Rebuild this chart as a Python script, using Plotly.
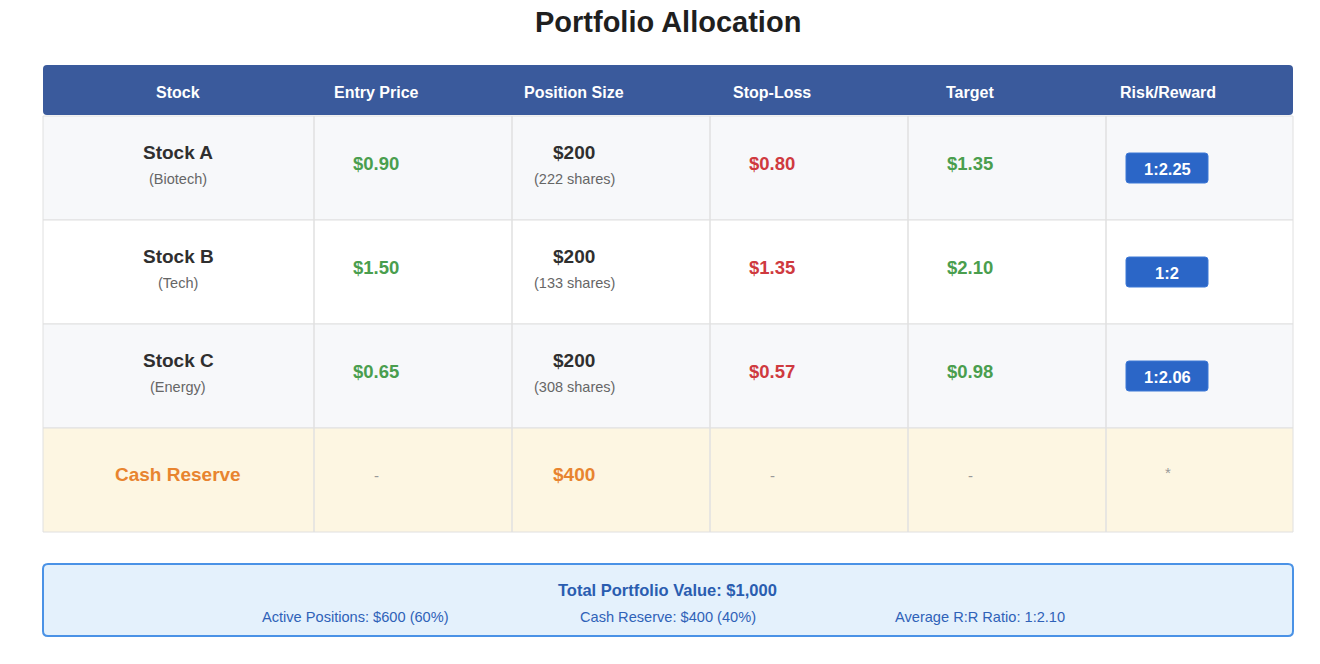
import plotly.graph_objects as go

# ---- data ----
headers = ["Stock", "Entry Price", "Position Size", "Stop-Loss", "Target", "Risk/Reward"]
stocks = ["Stock A", "Stock B", "Stock C"]
sectors = ["(Biotech)", "(Tech)", "(Energy)"]
entry_prices = [0.90, 1.50, 0.65]
position_sizes = [200, 200, 200]
share_counts = [222, 133, 308]
stop_losses = [0.80, 1.35, 0.57]
targets = [1.35, 2.10, 0.98]
risk_reward = ["1:2.25", "1:2", "1:2.06"]
cash_reserve = 400
total_value = 1000
active_positions = 600
avg_rr = "1:2.10"

# ---- layout constants (pixels in the browser window) ----
W, H = 1320, 664
LEFT, RIGHT = 43, 1293
HEAD_TOP, HEAD_BOT = 65, 115
ROW_H = 104
FIRST_COL_W = 271
COL_W = 198
TEXT_X0 = 178  # center of first column text

FONT = "Arial, Liberation Sans, Helvetica, sans-serif"
HEAD_BG = "#3a5a9c"
GREEN = "#4a9e4e"
RED = "#cf3a3f"
ORANGE = "#e8842f"
BADGE = "#2b66c7"
GRID = "#e0e0e0"
DARK = "#2f2f2f"
GREY = "#666666"


def rounded(x0, y0, x1, y1, r):
    return (f"M{x0+r},{y0} L{x1-r},{y0} Q{x1},{y0} {x1},{y0+r} "
            f"L{x1},{y1-r} Q{x1},{y1} {x1-r},{y1} L{x0+r},{y1} "
            f"Q{x0},{y1} {x0},{y1-r} L{x0},{y0+r} Q{x0},{y0} {x0+r},{y0} Z")


def text_x(i):
    return TEXT_X0 + COL_W * i


fig = go.Figure()
shapes = []
annotations = []


def label(x, y, text, size, color, bold=False):
    annotations.append(dict(
        x=x, y=y, xref="x", yref="y", text=f"<b>{text}</b>" if bold else text,
        showarrow=False, xanchor="center", yanchor="middle",
        font=dict(family=FONT, size=size, color=color)))


# header bar
shapes.append(dict(type="path", path=rounded(LEFT, HEAD_TOP, RIGHT, HEAD_BOT, 4),
                   fillcolor=HEAD_BG, line=dict(width=0), layer="below"))
for i, h in enumerate(headers):
    label(text_x(i), (HEAD_TOP + HEAD_BOT) / 2 + 2, h, 16, "white", bold=True)

# body rows
row_fills = ["#f7f8fa", "#ffffff", "#f7f8fa", "#fdf6e2"]
body_top = HEAD_BOT + 1
n_rows = len(stocks) + 1
for r in range(n_rows):
    y0 = body_top + ROW_H * r
    shapes.append(dict(type="rect", x0=LEFT, x1=RIGHT, y0=y0, y1=y0 + ROW_H,
                       fillcolor=row_fills[r], line=dict(color=GRID, width=1),
                       layer="below"))

body_bot = body_top + ROW_H * n_rows
for c in range(1, len(headers)):
    xd = LEFT + FIRST_COL_W + COL_W * (c - 1)
    shapes.append(dict(type="line", x0=xd, x1=xd, y0=body_top, y1=body_bot,
                       line=dict(color=GRID, width=1.5)))

for r in range(len(stocks)):
    top = body_top + ROW_H * r
    label(text_x(0), top + 36, stocks[r], 19, DARK, bold=True)
    label(text_x(0), top + 63, sectors[r], 14.5, GREY)
    label(text_x(1), top + 47, f"${entry_prices[r]:.2f}", 18.5, GREEN, bold=True)
    label(text_x(2), top + 36, f"${position_sizes[r]}", 19, DARK, bold=True)
    label(text_x(2), top + 63, f"({share_counts[r]} shares)", 14.5, GREY)
    label(text_x(3), top + 47, f"${stop_losses[r]:.2f}", 18.5, RED, bold=True)
    label(text_x(4), top + 47, f"${targets[r]:.2f}", 18.5, GREEN, bold=True)
    bx = text_x(5) - 1
    shapes.append(dict(type="path", path=rounded(bx - 41, top + 37, bx + 41, top + 67, 3),
                       fillcolor=BADGE, line=dict(color="#3d78d6", width=1)))
    label(bx, top + 53, risk_reward[r], 16.5, "white", bold=True)

# cash reserve row
top = body_top + ROW_H * len(stocks)
label(text_x(0), top + 46, "Cash Reserve", 19, ORANGE, bold=True)
label(text_x(1), top + 47, "-", 15, "#999999")
label(text_x(2), top + 46, f"${cash_reserve}", 19, ORANGE, bold=True)
label(text_x(3), top + 47, "-", 15, "#999999")
label(text_x(4), top + 47, "-", 15, "#999999")
label(text_x(5), top + 44, "*", 15, "#999999")

# summary box
shapes.append(dict(type="path", path=rounded(LEFT, 564, RIGHT, 636, 5),
                   fillcolor="#e4f1fc", line=dict(color="#4a92e6", width=2)))
label(667, 590, f"Total Portfolio Value: ${total_value:,}", 16.5, "#2a5db0", bold=True)
cash_pct = round(cash_reserve / total_value * 100)
act_pct = round(active_positions / total_value * 100)
label(355, 617, f"Active Positions: ${active_positions} ({act_pct}%)", 14.6, "#2f62b8")
label(668, 617, f"Cash Reserve: ${cash_reserve} ({cash_pct}%)", 14.6, "#2f62b8")
label(980, 617, f"Average R:R Ratio: {avg_rr}", 14.6, "#2f62b8")

# title
label(668, 22, "Portfolio Allocation", 29, "#1f1f1f", bold=True)

fig.update_layout(
    width=W, height=H,
    margin=dict(l=0, r=0, t=0, b=0),
    paper_bgcolor="white", plot_bgcolor="white",
    xaxis=dict(range=[0, W], visible=False, fixedrange=True),
    yaxis=dict(range=[H, 0], visible=False, fixedrange=True),
    shapes=shapes, annotations=annotations,
    showlegend=False,
)

# drop the page's default body margin so figure pixels match window pixels
fig.write_html("out.html", config={"displayModeBar": False},
               post_script="document.body.style.margin = '0';")
